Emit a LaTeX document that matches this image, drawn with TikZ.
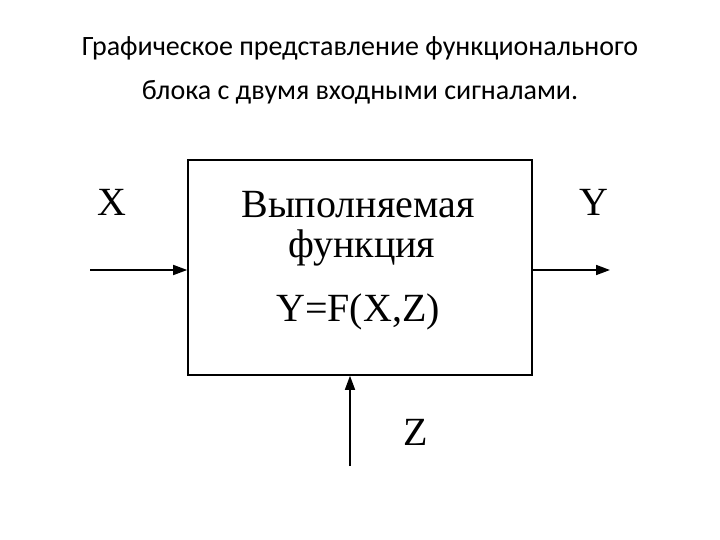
\documentclass[tikz,border=0pt]{standalone}
\usepackage{fontspec}
\setmainfont{Liberation Serif}
\newfontfamily\titlefont{Carlito}
\usetikzlibrary{arrows.meta}
\begin{document}
\begin{tikzpicture}[x=1pt,y=-1pt,
  conn/.style={line width=1.6pt,-{Triangle[length=14pt,width=10pt]}},
  lbl/.style={font=\fontsize{40}{40}\selectfont,inner sep=0pt}]
\useasboundingbox (0,0) rectangle (720,540);
\node[font=\titlefont\fontsize{28}{44}\selectfont,align=center] (title) at (360,70)
  {Графическое представление функционального\\блока с двумя входными сигналами.};
\node[draw,line width=1.6pt,minimum width=344pt,minimum height=215pt,inner sep=0pt] (box) at (360,267.5) {};
\node[lbl] (t1) at (358,205) {Выполняемая};
\node[lbl,anchor=west] (t2) at (288,248) {функция};
\node[lbl] (t3) at (358,312) {Y=F(X,Z)};
\coordinate (xs) at (90,270);
\coordinate (ye) at (610,270);
\coordinate (zs) at (350,466);
\draw[conn] (xs) -- (xs -| box.west);
\draw[conn] (ye -| box.east) -- (ye);
\draw[conn] (zs) -- (zs |- box.south);
\node[lbl] (X) at (112,202) {X};
\node[lbl] (Y) at (594,202) {Y};
\node[lbl] (Z) at (416,432) {Z};
\end{tikzpicture}
\end{document}
